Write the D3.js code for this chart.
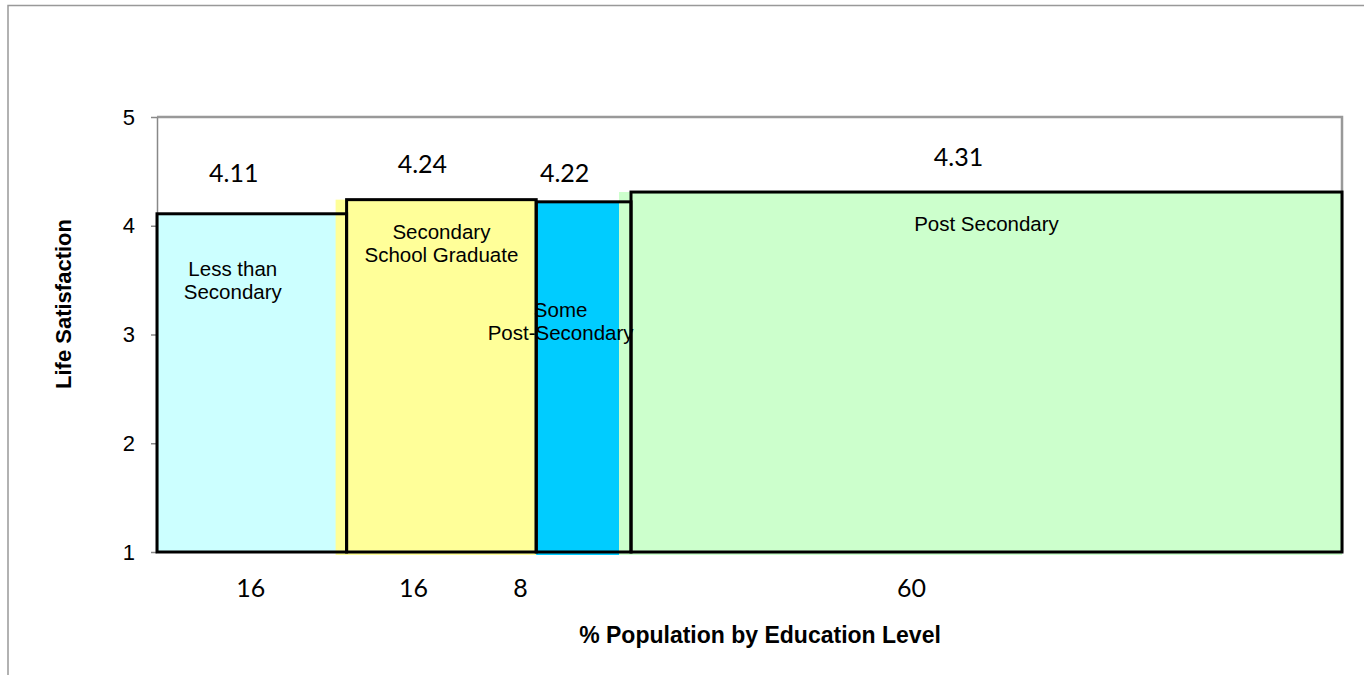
<!DOCTYPE html>
<html>
<head>
<meta charset="utf-8">
<script src="https://cdn.jsdelivr.net/npm/d3@7"></script>
<style>
  html, body { margin: 0; padding: 0; background: #fff; }
  svg { display: block; }
</style>
</head>
<body>
<svg id="chart" width="1364" height="675"></svg>
<script>
// Life satisfaction by education level; bar width = share of population
const categories = ["Less than Secondary", "Secondary School Graduate", "Some Post-Secondary", "Post Secondary"];
const categoryLines = [["Less than", "Secondary"], ["Secondary", "School Graduate"], ["Some", "Post-Secondary"], ["Post Secondary"]];
const populationPct = [16, 16, 8, 60];
const satisfaction = [4.11, 4.24, 4.22, 4.31];
const yTicks = [1, 2, 3, 4, 5];

// Styling and label placement
const fillColors = ["#CCFFFF", "#FFFF99", "#00CCFF", "#CCFFCC"];
const fillLead = [0, 11, 0, 12];        // fill band starts a little left of its outline
const fillDrop = [0, 3, 3, 3];          // fill band hangs slightly under the baseline
const valueDx = [-18, -19, -19, -28];   // value label offset from bar centre
const valueDy = [-32, -27, -20, -26];   // value label baseline above bar top
const catDx = [-19, 0, -23, 0];
const catDy = [62, 39, 115, 39];
const tickDx = [-1, -28, -63, -75];

const svg = d3.select("#chart");
const plot = { left: 157, right: 1342, top: 117, bottom: 552 };

const x = d3.scaleLinear().domain([0, 100]).range([plot.left, plot.right]);
const y = d3.scaleLinear().domain([1, 5]).range([plot.bottom, plot.top]);

const starts = d3.cumsum([0, ...populationPct]).slice(0, populationPct.length);
const bars = categories.map((c, i) => ({
  name: c, i, lines: categoryLines[i], pct: populationPct[i], value: satisfaction[i],
  x0: starts[i], x1: starts[i] + populationPct[i]
}));

// Outer chart frame (top and left edges)
svg.append("path")
  .attr("d", "M8,675 L8,5.5 L1364,5.5")
  .attr("fill", "none").attr("stroke", "#999").attr("stroke-width", 1.5);

// Plot area border (top and right)
svg.append("path")
  .attr("d", `M${plot.left},${plot.top} L${plot.right},${plot.top} L${plot.right},${plot.bottom}`)
  .attr("fill", "none").attr("stroke", "#999").attr("stroke-width", 2.5);

// Colour bands
svg.append("g").selectAll("rect").data(bars).join("rect")
  .attr("x", d => x(d.x0) - fillLead[d.i])
  .attr("y", d => y(d.value))
  .attr("width", d => x(d.x1) - x(d.x0) + fillLead[d.i])
  .attr("height", d => y(1) - y(d.value) + fillDrop[d.i])
  .attr("fill", d => fillColors[d.i]);

// Y axis
const yAxis = svg.append("g")
  .attr("transform", `translate(${plot.left},0)`)
  .call(d3.axisLeft(y).tickValues(yTicks).tickSize(6).tickSizeOuter(0).tickPadding(16).tickFormat(d3.format("d")));
yAxis.attr("font-size", null).attr("font-family", null);
yAxis.select(".domain").attr("stroke", "#888").attr("stroke-width", 1.5);
yAxis.selectAll(".tick line").attr("stroke", "#888").attr("stroke-width", 1.5);
yAxis.selectAll(".tick text")
  .style("font-family", "'Liberation Sans', Arial, sans-serif")
  .style("font-size", "22px").attr("fill", "#000");

// Baseline
svg.append("line")
  .attr("x1", plot.left).attr("x2", plot.right)
  .attr("y1", y(1)).attr("y2", y(1))
  .attr("stroke", "#555").attr("stroke-width", 2);

// Bar outlines
svg.append("g").selectAll("rect").data(bars).join("rect")
  .attr("x", d => x(d.x0))
  .attr("y", d => y(d.value))
  .attr("width", d => x(d.x1) - x(d.x0))
  .attr("height", d => y(1) - y(d.value))
  .attr("fill", "none")
  .attr("stroke", "#000").attr("stroke-width", 3);

// Value labels
svg.append("g").selectAll("text").data(bars).join("text")
  .attr("x", d => (x(d.x0) + x(d.x1)) / 2 + valueDx[d.i])
  .attr("y", d => y(d.value) + valueDy[d.i])
  .attr("text-anchor", "middle")
  .attr("font-family", "Lato, 'Open Sans', sans-serif")
  .attr("font-size", 25).attr("fill", "#000")
  .text(d => d3.format(".2f")(d.value));

// Category labels inside the bars
const cat = svg.append("g").selectAll("text").data(bars).join("text")
  .attr("x", d => (x(d.x0) + x(d.x1)) / 2 + catDx[d.i])
  .attr("y", d => y(d.value) + catDy[d.i])
  .attr("text-anchor", "middle")
  .attr("font-family", "'Liberation Sans', Arial, sans-serif")
  .attr("font-size", 20.5).attr("fill", "#000");
cat.selectAll("tspan").data(d => d.lines.map((t, k) => ({ t, k, cx: (x(d.x0) + x(d.x1)) / 2 + catDx[d.i] })))
  .join("tspan")
  .attr("x", s => s.cx)
  .attr("dy", s => s.k === 0 ? 0 : 23.5)
  .text(s => s.t);

// Population share labels under the axis
svg.append("g").selectAll("text").data(bars).join("text")
  .attr("x", d => (x(d.x0) + x(d.x1)) / 2 + tickDx[d.i])
  .attr("y", 597)
  .attr("text-anchor", "middle")
  .attr("font-family", "Lato, 'Open Sans', sans-serif")
  .attr("font-size", 25).attr("fill", "#000")
  .text(d => d.pct);

// Axis titles
svg.append("text")
  .attr("x", 760).attr("y", 643)
  .attr("text-anchor", "middle")
  .attr("font-family", "'Liberation Sans', Arial, sans-serif")
  .attr("font-weight", "bold").attr("font-size", 23).attr("fill", "#000")
  .text("% Population by Education Level");

svg.append("text")
  .attr("transform", "translate(71,304) rotate(-90)")
  .attr("text-anchor", "middle")
  .attr("font-family", "'Liberation Sans', Arial, sans-serif")
  .attr("font-weight", "bold").attr("font-size", 22).attr("fill", "#000")
  .text("Life Satisfaction");
</script>
</body>
</html>
